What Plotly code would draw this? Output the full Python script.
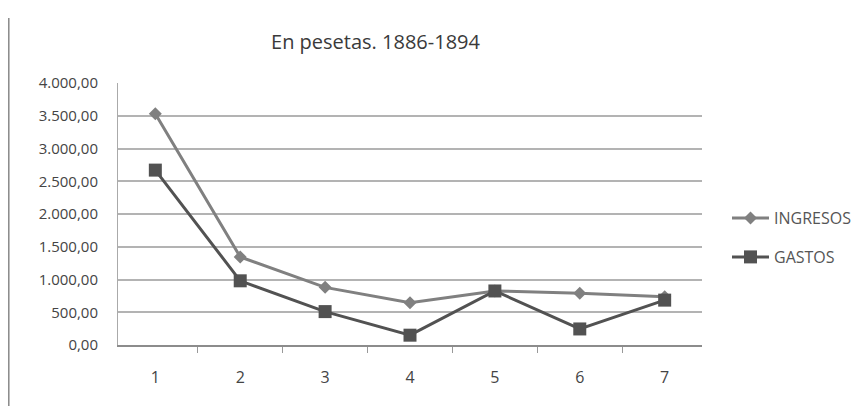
import plotly.graph_objects as go

categories = ["1", "2", "3", "4", "5", "6", "7"]
ingresos = [3530, 1345, 880, 645, 825, 790, 735]
gastos = [2670, 980, 510, 150, 825, 245, 685]
y_ticks = [0, 500, 1000, 1500, 2000, 2500, 3000, 3500, 4000]
y_tick_labels = ["0,00", "500,00", "1.000,00", "1.500,00", "2.000,00",
                 "2.500,00", "3.000,00", "3.500,00", "4.000,00"]

font_family = "Open Sans, sans-serif"

# page body adds an 8px offset; figure is sized to fit the window
W, H = 854, 398
L, R, T, B = 110, 160, 75, 61
PW, PH = W - L - R, H - T - B

fig = go.Figure()
fig.add_trace(go.Scatter(
    x=categories, y=ingresos, name="INGRESOS", mode="lines+markers",
    line=dict(color="#808080", width=3),
    marker=dict(symbol="diamond", size=10, color="#808080"),
    legend="legend",
))
fig.add_trace(go.Scatter(
    x=categories, y=gastos, name="GASTOS", mode="lines+markers",
    line=dict(color="#525252", width=3),
    marker=dict(symbol="square", size=13, color="#525252"),
    legend="legend2",
))

leg_x = (719 - L) / PW
legend_common = dict(x=leg_x, xanchor="left", yanchor="middle",
                     font=dict(family=font_family, size=16, color="#555555"),
                     bgcolor="rgba(0,0,0,0)", itemwidth=37)

fig.update_layout(
    width=W, height=H,
    margin=dict(l=L, r=R, t=T, b=B, autoexpand=False),
    paper_bgcolor="white", plot_bgcolor="white",
    title=dict(text="En pesetas. 1886-1894", x=367.5 / W, xanchor="center",
               y=1 - 34 / H, yanchor="middle",
               font=dict(family=font_family, size=20, color="#3a3a3a")),
    font=dict(family=font_family, size=15, color="#444444"),
    showlegend=True,
    legend=dict(y=(T + PH - (218 - 8)) / PH, **legend_common),
    legend2=dict(y=(T + PH - (257 - 8)) / PH, **legend_common),
    xaxis=dict(type="category", tickson="boundaries", ticks="outside",
               ticklen=6, tickcolor="#999999", showgrid=False,
               showline=True, linecolor="#8c8c8c", linewidth=2,
               tickfont=dict(size=16, color="#444444"), ticklabelstandoff=17),
    yaxis=dict(range=[0, 4000], tickvals=y_ticks, ticktext=y_tick_labels,
               showgrid=True, gridcolor="#b3b3b3", gridwidth=2,
               zeroline=False, showline=True, linecolor="#aaaaaa",
               linewidth=1, ticks="", tickfont=dict(size=15, color="#444444"),
               ticklabelstandoff=16),
)

fig.add_shape(type="line", xref="paper", yref="paper",
              x0=(0.8 - L) / PW, x1=(0.8 - L) / PW,
              y0=(T + PH - 10) / PH, y1=(T + PH - H) / PH,
              line=dict(color="#888888", width=1.5))

fig.write_html("out.html")
